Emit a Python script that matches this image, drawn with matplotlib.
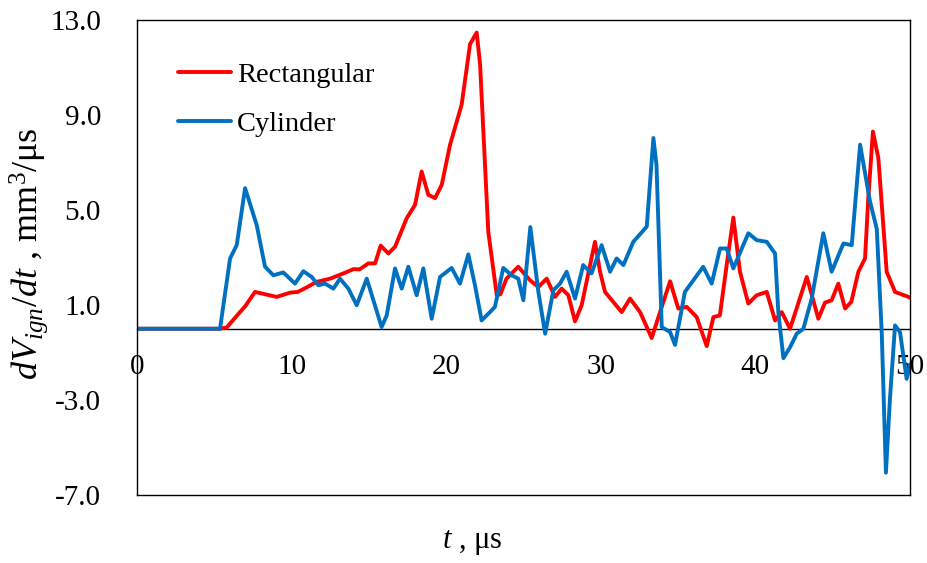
import numpy as np
import matplotlib
matplotlib.use("Agg")
import matplotlib.pyplot as plt

# Font setup (Times-like serif).
plt.rcParams["font.family"] = ["Liberation Serif", "DejaVu Serif"]
plt.rcParams["mathtext.fontset"] = "custom"
plt.rcParams["mathtext.rm"] = "Liberation Serif"
plt.rcParams["mathtext.it"] = "Liberation Serif:italic"

# Data (t in us, dV/dt in mm^3/us).
tRect = [0, 5.3, 5.8, 6.66, 7.0, 7.63, 8.3, 9.03, 9.9, 10.4, 11.0, 11.6, 12.5, 13.35,
         14.0, 14.4, 14.96, 15.4, 15.76, 16.26, 16.69, 17.44, 17.98, 18.41, 18.84,
         19.28, 19.71, 20.25, 21.0, 21.54, 21.97, 22.19, 22.72, 23.27, 23.5, 23.9,
         24.66, 25.42, 25.96, 26.5, 27.04, 27.47, 27.9, 28.33, 28.76, 29.62, 29.95,
         30.27, 31.35, 31.89, 32.54, 33.29, 33.83, 34.48, 35.01, 35.56, 36.2, 36.85,
         37.28, 37.7, 38.14, 38.57, 39.0, 39.54, 40.08, 40.73, 41.27, 41.7, 42.24,
         43.32, 44.07, 44.5, 44.93, 45.36, 45.8, 46.2, 46.66, 47.09, 47.3, 47.6,
         47.95, 48.49, 49.03, 49.9, 50.0]
vRect = [0, 0, 0.05, 0.70, 0.95, 1.55, 1.45, 1.34, 1.52, 1.55, 1.75, 1.97, 2.11, 2.33,
         2.51, 2.5, 2.75, 2.75, 3.50, 3.17, 3.45, 4.65, 5.21, 6.62, 5.64,
         5.50, 6.06, 7.75, 9.44, 11.98, 12.47, 11.13, 4.09, 1.41, 1.45, 2.11,
         2.61, 2.04, 1.76, 2.11, 1.34, 1.69, 1.41, 0.31, 0.99, 3.66, 2.40,
         1.55, 0.70, 1.27, 0.70, -0.39, 0.70, 2.0, 0.85, 0.92, 0.49, -0.73,
         0.49, 0.56, 2.68, 4.68, 2.40, 1.06, 1.41, 1.55, 0.35, 0.70, 0.0,
         2.18, 0.42, 1.1, 1.2, 1.90, 0.85, 1.13, 2.40, 2.96, 5.5, 8.3,
         7.19, 2.40, 1.55, 1.34, 1.3]

tCyl = [0, 5.15, 5.37, 6.02, 6.45, 6.99, 7.74, 8.28, 8.82, 9.46, 10.22, 10.76, 11.3,
        11.73, 12.16, 12.7, 13.13, 13.67, 14.21, 14.86, 15.82, 16.15, 16.69, 17.12,
        17.55, 18.09, 18.52, 19.06, 19.6, 20.35, 20.89, 21.43, 21.86, 22.29, 22.83,
        23.15, 23.69, 24.23, 24.66, 24.99, 25.44, 25.96, 26.4, 26.93, 27.36, 27.79,
        28.33, 28.86, 29.4, 30.05, 30.6, 31.02, 31.46, 32.1, 32.97, 33.4, 33.6,
        33.94, 34.48, 34.8, 35.44, 36.62, 37.17, 37.71, 38.14, 38.57, 39.54, 40.08,
        40.73, 41.27, 41.48, 41.81, 42.24, 42.67, 43.1, 43.64, 44.39, 44.93, 45.69,
        46.23, 46.77, 47.41, 47.85, 48.17, 48.44, 48.7, 49.03, 49.35, 49.78, 50.0]
vCyl = [0, 0, 0.0, 2.96, 3.52, 5.92, 4.37, 2.61, 2.25, 2.37, 1.90, 2.42, 2.18,
        1.83, 1.90, 1.69, 2.11, 1.69, 0.99, 2.11, 0.07, 0.56, 2.54, 1.69,
        2.61, 1.41, 2.54, 0.42, 2.18, 2.56, 1.90, 3.13, 1.83, 0.35, 0.70,
        0.92, 2.56, 2.25, 2.11, 1.2, 4.28, 1.55, -0.21, 1.62, 1.9, 2.40,
        1.27, 2.68, 2.33, 3.52, 2.40, 2.96, 2.68, 3.66, 4.30, 8.03, 6.9,
        0.07, -0.14, -0.68, 1.55, 2.61, 1.9, 3.38, 3.38, 2.54, 4.02, 3.73,
        3.66, 3.17, 0.70, -1.24, -0.78, -0.21, 0.0, 1.27, 4.02, 2.40, 3.59,
        3.52, 7.75, 5.36, 4.2, -0.17, -6.06, -2.96, 0.14, -0.14, -2.11, -1.5]

xTicks = [0, 10, 20, 30, 40, 50]
yTicks = [-7, -3, 1, 5, 9, 13]

fig = plt.figure(figsize=(9.27, 5.63), dpi=100)
ax = fig.add_axes([0.1478, 0.1208, 0.8339, 0.8437])

ax.plot(tRect, vRect, color="#FF0000", lw=2.8, label="Rectangular",
        solid_joinstyle="round", solid_capstyle="round")
ax.plot(tCyl, vCyl, color="#0070C0", lw=2.8, label="Cylinder",
        solid_joinstyle="round", solid_capstyle="round")

ax.set_xlim(0, 50)
ax.set_ylim(-7, 13)
ax.set_xticks(xTicks)
ax.set_yticks(yTicks)
ax.set_yticklabels([f"{v:.1f}" for v in yTicks])

# The x axis crosses at zero; keep a full frame around the plot.
ax.spines["bottom"].set_position(("data", 0))
ax.spines["bottom"].set_zorder(0.5)
ax.plot([0, 1], [0, 0], transform=ax.transAxes, color="black", lw=1.0, clip_on=False)
for s in ax.spines.values():
  s.set_linewidth(1.0)

ax.tick_params(axis="both", length=0, labelsize=21)
ax.tick_params(axis="x", pad=18)
ax.tick_params(axis="y", pad=26)

ax.set_ylabel(r"$dV_{ign}/dt$ , mm$^3$/μs", fontsize=26)
ax.yaxis.set_label_coords(-0.112, 0.507)
ax.set_xlabel(r"$t$ , μs", fontsize=22)
ax.xaxis.set_label_coords(0.433, -0.069)

ax.legend(loc="upper left", bbox_to_anchor=(0.0195, 0.966), frameon=False, fontsize=20.5,
          handlelength=1.86, handletextpad=0.21, labelspacing=0.83)

plt.savefig("out.png", dpi=100)
